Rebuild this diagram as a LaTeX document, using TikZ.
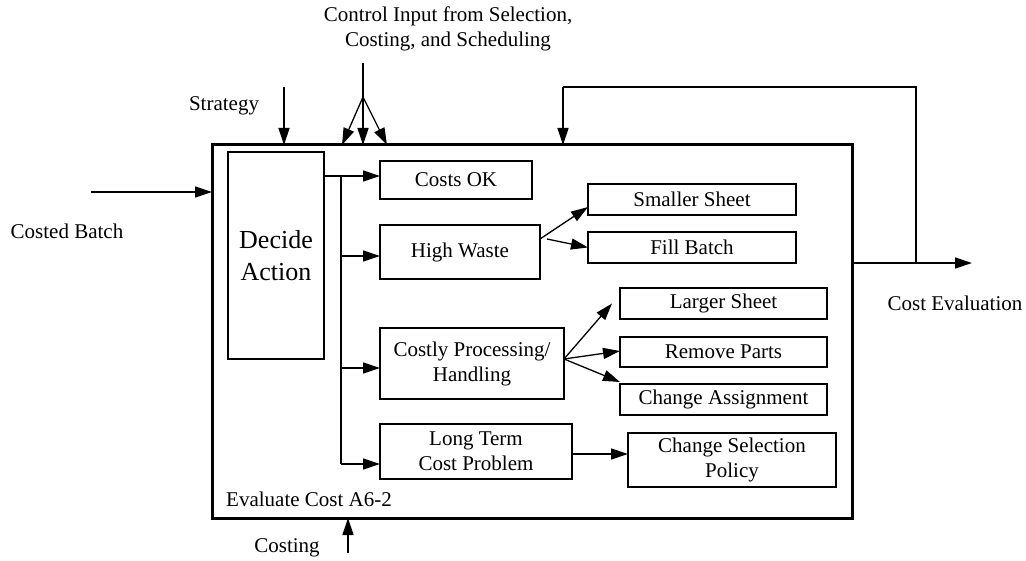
\documentclass[tikz,border=0pt]{standalone}
\usepackage{fontspec}
\setmainfont{Liberation Serif}
\usetikzlibrary{arrows.meta}

\begin{document}
\begin{tikzpicture}[x=1pt,y=-1pt,
  every node/.style={font=\fontsize{21}{25}\selectfont},
  box/.style={draw, line width=1.3pt, inner sep=0pt, outer sep=0pt, align=center},
  frame/.style={draw, line width=3pt, inner sep=0pt, outer sep=0pt},
  conn/.style={line width=1.3pt, -{Triangle[length=17pt,width=11pt]}},
  wire/.style={line width=1.3pt},
  lbl/.style={inner sep=0pt, align=center}]
\useasboundingbox (0,0) rectangle (1026,561);

% outer activity box
\node[frame, minimum width=640pt, minimum height=373pt] (main) at (532,331.5) {};
\node[lbl, anchor=west] (title) at (226,499) {Evaluate Cost A6-2};

% inner boxes
\node[box, minimum width=96pt, minimum height=207pt,
      font=\fontsize{26}{32}\selectfont] (decide) at (276,255.5) {Decide\\Action};
\node[box, minimum width=152pt, minimum height=38pt] (costsok) at (456,180) {Costs OK};
\node[box, minimum width=160pt, minimum height=54pt] (highwaste) at (460,252) {High Waste};
\node[box, minimum width=208pt, minimum height=31pt] (smaller) at (692,199.5) {Smaller Sheet};
\node[box, minimum width=208pt, minimum height=31pt] (fill) at (692,247.5) {Fill Batch};
\node[box, minimum width=184pt, minimum height=71pt] (costly) at (472,363.5) {Costly Processing/\\Handling};
\node[box, minimum width=207pt, minimum height=31pt] (larger) at (723.5,303.5) {Larger Sheet};
\node[box, minimum width=207pt, minimum height=30pt] (remove) at (723.5,352) {Remove Parts};
\node[box, minimum width=207pt, minimum height=31pt] (assign) at (723.5,399.5) {Change Assignment};
\node[box, minimum width=192pt, minimum height=55pt] (longterm) at (476,451.5) {Long Term\\Cost Problem};
\node[box, minimum width=208pt, minimum height=54pt] (policy) at (732,460) {Change Selection\\Policy};

% outside labels
\node[lbl] (ctrl) at (448,28.5) {Control Input from Selection,\\Costing, and Scheduling};
\node[lbl] (strategy) at (224,106) {Strategy};
\node[lbl] (batch) at (67,231) {Costed Batch};
\node[lbl] (costing) at (287,548) {Costing};
\node[lbl] (evaluation) at (955,303) {Cost Evaluation};

% helper points
\coordinate (bus) at (341,176);
\coordinate (okin) at ([yshift=4pt]costsok.west);
\coordinate (wastein) at ([yshift=-4pt]highwaste.west);
\coordinate (costlyin) at ([yshift=-4.5pt]costly.west);
\coordinate (longin) at ([yshift=-12.5pt]longterm.west);
\coordinate (longout) at ([yshift=-2.5pt]longterm.east);
\coordinate (wasteout) at ([yshift=13pt]highwaste.east);
\coordinate (costlyout) at ([yshift=4.5pt]costly.east);
\coordinate (ctrltop) at (363,63);
\coordinate (ctrlsplit) at (363,97);
\coordinate (c1) at (342,145);
\coordinate (c2) at (363,145);
\coordinate (c3) at (387,145);
\coordinate (strattop) at (284,87);
\coordinate (stratend) at (284,145);
\coordinate (batchin) at (91,192);
\coordinate (batchend) at (212,192);
\coordinate (costin) at (348,553);
\coordinate (costend) at (348,518);
\coordinate (outsplit) at (916,263);
\coordinate (outend) at (972,263);
\coordinate (fbtop) at (916,87);
\coordinate (fbleft) at (563,87);
\coordinate (fbend) at (563,145);

% inputs and controls
\draw[conn] (batchin) -- (batchend);
\draw[conn] (strattop) -- (stratend);
\draw[wire] (ctrltop) -- (ctrlsplit);
\draw[conn] (ctrlsplit) -- (c1);
\draw[conn] (ctrlsplit) -- (c2);
\draw[conn] (ctrlsplit) -- (c3);
\draw[conn] (costin) -- (costend);

% output and feedback
\draw[conn] (main.east |- outsplit) -- (outend);
\draw[wire] (outsplit) -- (fbtop) -- (fbleft);
\draw[conn] (fbleft) -- (fbend);

% decision branches
\draw[conn] (decide.east |- bus) -- (okin);
\draw[wire] (bus) -- (bus |- longin);
\draw[conn] (bus |- wastein) -- (wastein);
\draw[conn] (bus |- costlyin) -- (costlyin);
\draw[conn] (bus |- longin) -- (longin);

% remedies
\draw[conn] (wasteout) -- ([yshift=-7.5pt]smaller.west);
\draw[conn] ([xshift=7pt]wasteout) -- (fill.west);
\draw[conn] (costlyout) -- ([xshift=-8pt]larger.west);
\draw[conn] (costlyout) -- ([yshift=1pt]remove.west);
\draw[conn] (costlyout) -- ([yshift=17.5pt]assign.west);
\draw[conn] (longout) -- (longout -| policy.west);
\end{tikzpicture}
\end{document}
